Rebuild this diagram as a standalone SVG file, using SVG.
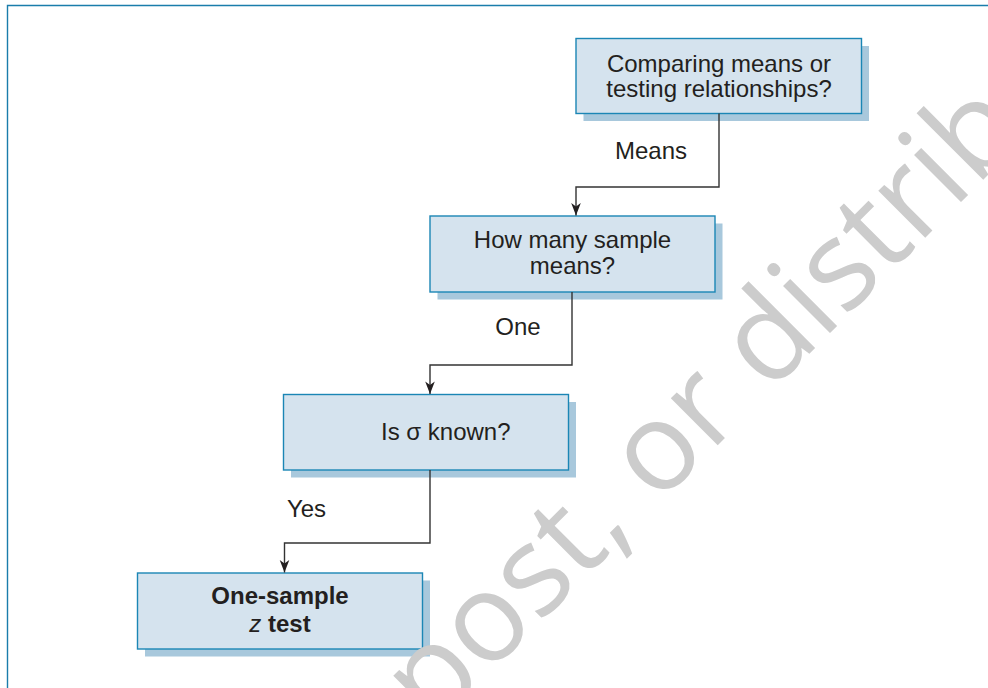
<svg xmlns="http://www.w3.org/2000/svg" width="988" height="688" viewBox="0 0 988 688">
<style>
.frame{fill:none;stroke:#1a7dab;stroke-width:1.4}
.shadow{fill:#a8c8dc}
.box{fill:#d5e3ee;stroke:#1b86b5;stroke-width:1.4}
.t{font-family:"Liberation Sans",Arial,sans-serif;font-size:24px;fill:#231f20}
.c{text-anchor:middle}
.b{font-weight:bold}
.conn{fill:none;stroke:#333333;stroke-width:1.4}
.wm{font-family:"Open Sans",sans-serif;font-size:124px;fill:#cccccc}
</style>
<defs>
<marker id="arr" markerUnits="userSpaceOnUse" markerWidth="14" markerHeight="12" refX="0" refY="0" viewBox="-13 -6 14 12" orient="auto">
<path d="M0,0 L-12.5,-4.8 L-9,0 L-12.5,4.8 Z" fill="#231f20"/>
</marker>
</defs>
<rect width="988" height="688" fill="#ffffff"/>
<path class="frame" d="M7.5,688 V5.5 H988"/>

<g id="node-compare">
<rect class="shadow" x="583.5" y="46" width="285.5" height="75"/>
<rect class="box" x="576" y="38.5" width="285.5" height="75"/>
<text class="t c" x="719" y="71.5">Comparing means or</text>
<text class="t c" x="719" y="97">testing relationships?</text>
</g>

<g id="node-howmany">
<rect class="shadow" x="437.5" y="223.5" width="285" height="76"/>
<rect class="box" x="430" y="216" width="285" height="76"/>
<text class="t c" x="572.5" y="247.5">How many sample</text>
<text class="t c" x="572.5" y="274">means?</text>
</g>

<g id="node-sigma">
<rect class="shadow" x="291" y="402" width="285" height="75.5"/>
<rect class="box" x="283.5" y="394.5" width="285" height="75.5"/>
<text class="t" x="381" y="440">Is σ known?</text>
</g>

<g id="node-ztest">
<rect class="shadow" x="145" y="580.5" width="285" height="76"/>
<rect class="box" x="137.5" y="573" width="285" height="76"/>
<text class="t c b" x="280" y="603.5">One-sample</text>
<text class="t c b" x="280" y="631.5"><tspan font-style="italic" font-weight="normal">z</tspan> test</text>
</g>

<g id="connectors">
<path class="conn" d="M719,113.5 V187 H576 V215.5" marker-end="url(#arr)"/>
<path class="conn" d="M572,292 V365 H430 V394" marker-end="url(#arr)"/>
<path class="conn" d="M430,470 V543 H284.5 V572.5" marker-end="url(#arr)"/>
<text class="t c" x="651" y="158.5">Means</text>
<text class="t c" x="518" y="335">One</text>
<text class="t c" x="306.5" y="516.5">Yes</text>
</g>

<text class="wm" x="432.7" y="730.3" transform="rotate(-45 432.7 730.3)">post, or distribute</text>
</svg>
